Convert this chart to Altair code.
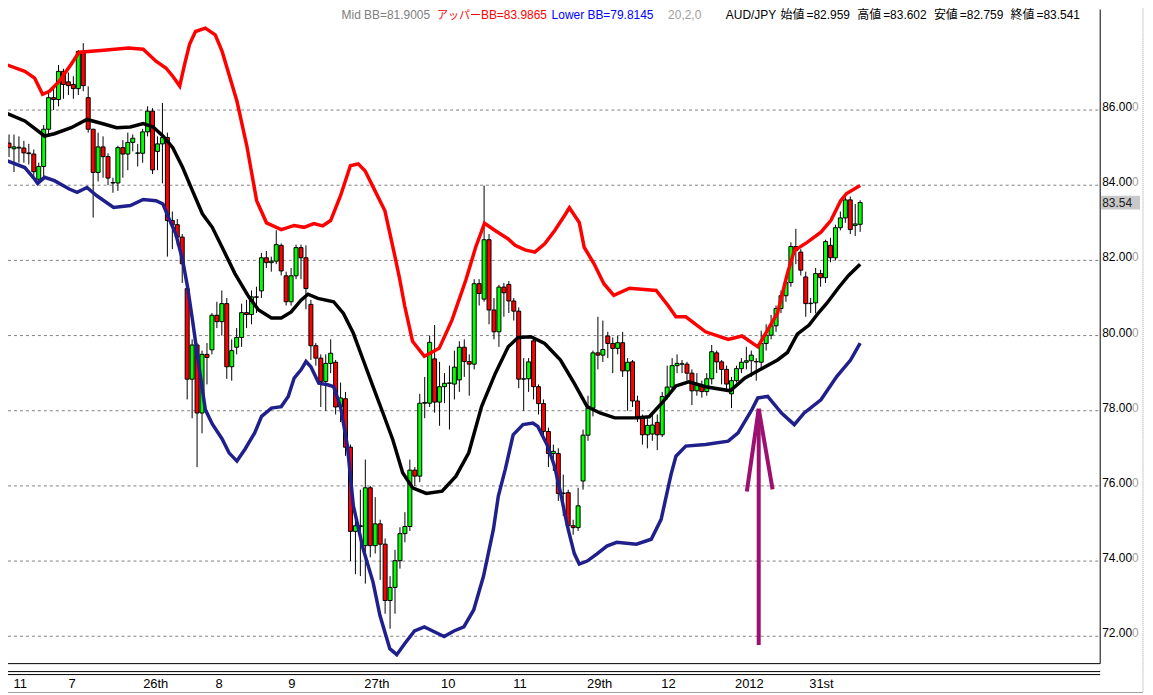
import altair as alt
import pandas as pd

# ---------------- AUD/JPY candles ----------------
opens = [
    85.12, 84.97, 84.99, 84.99, 84.86, 84.83, 84.16, 84.50, 85.49, 86.33,
    86.28, 87.03, 86.75, 86.68, 86.57, 87.56, 86.33, 85.49, 84.34, 85.02,
    84.76, 84.07, 84.06, 85.00, 84.83, 85.14, 84.85, 84.85, 85.42, 85.97,
    84.90, 85.10, 85.27, 83.06, 82.95, 82.62, 81.25, 78.84, 79.75, 77.94,
    79.50, 79.62, 80.54, 80.37, 80.85, 79.17, 79.69, 79.95, 80.61, 80.56,
    81.03, 81.19, 82.07, 81.94, 81.98, 82.40, 81.59, 80.90, 81.59, 82.34,
    82.07, 80.83, 79.73, 79.40, 78.78, 79.26, 79.29, 78.10, 78.32, 77.03,
    74.79, 74.94, 74.41, 75.95, 74.41, 74.99, 74.45, 72.95, 73.30, 74.01,
    74.73, 74.92, 76.42, 76.26, 78.20, 78.20, 79.38, 78.23, 78.64, 78.73,
    78.71, 78.82, 79.69, 79.31, 79.24, 81.38, 80.97, 82.55, 80.68, 80.10,
    81.29, 81.36, 80.92, 80.65, 78.84, 78.85, 79.86, 78.64, 78.19, 77.45,
    76.86, 76.86, 75.80, 75.82, 74.94, 74.89, 76.13, 77.35, 78.07, 79.54,
    79.48, 79.99, 79.79, 79.66, 79.81, 79.06, 79.30, 78.26, 77.83, 77.36,
    77.38, 77.69, 77.36, 78.38, 78.63, 79.20, 79.24, 79.24, 79.00, 78.53,
    78.66, 78.51, 78.85, 79.54, 79.30, 79.10, 78.45, 78.80, 79.12, 79.29,
    79.33, 79.30, 79.29, 79.79, 80.01, 80.26, 80.72, 81.06, 81.41, 82.37,
    82.22, 81.56, 80.85, 80.87, 81.65, 81.54, 82.40, 82.07, 82.87, 83.13,
    83.61, 82.93, 82.96,
]
highs = [
    85.35, 85.35, 85.30, 85.18, 85.10, 84.95, 84.60, 85.60, 86.50, 86.60,
    87.20, 87.10, 87.00, 86.90, 87.60, 87.78, 86.63, 85.50, 85.40, 85.30,
    84.85, 84.20, 85.05, 85.20, 85.40, 85.35, 85.10, 85.50, 86.10, 86.05,
    85.30, 86.19, 85.40, 83.30, 83.10, 82.70, 81.40, 79.90, 79.80, 79.60,
    79.80, 80.60, 80.90, 81.20, 81.00, 79.90, 80.20, 80.85, 80.95, 81.20,
    81.30, 82.20, 82.25, 82.10, 82.80, 82.45, 81.70, 81.80, 82.42, 82.42,
    82.40, 80.95, 79.80, 79.50, 79.50, 79.90, 79.35, 78.75, 78.50, 77.10,
    75.30, 75.90, 76.70, 76.00, 75.70, 75.10, 74.60, 73.60, 74.30, 74.90,
    75.30, 76.70, 76.50, 78.45, 78.90, 80.00, 80.28, 79.30, 79.00, 79.20,
    79.60, 79.85, 79.90, 79.50, 81.50, 81.50, 83.99, 82.70, 81.00, 81.35,
    81.40, 81.45, 81.00, 80.75, 79.40, 79.40, 79.90, 78.70, 78.30, 77.55,
    77.10, 77.00, 76.30, 75.90, 75.10, 75.95, 77.50, 78.40, 79.60, 80.50,
    80.40, 80.10, 79.95, 80.00, 80.10, 79.40, 79.35, 78.40, 77.90, 77.80,
    77.95, 77.90, 78.50, 79.20, 79.40, 79.50, 79.35, 79.30, 79.10, 79.00,
    78.80, 79.00, 79.75, 79.60, 79.35, 79.20, 78.90, 79.20, 79.40, 79.70,
    79.60, 79.40, 80.13, 80.30, 80.55, 80.80, 81.20, 81.50, 82.48, 82.84,
    82.30, 81.70, 81.00, 81.80, 81.75, 82.55, 82.60, 82.95, 83.30, 83.78,
    83.70, 83.50, 83.60,
]
lows = [
    84.75, 84.35, 84.60, 84.60, 84.55, 84.20, 84.05, 84.20, 85.30, 86.00,
    86.10, 86.30, 86.40, 86.30, 86.40, 86.50, 85.40, 83.14, 84.10, 84.20,
    84.00, 83.80, 83.85, 84.20, 84.40, 84.90, 84.50, 84.60, 85.30, 84.30,
    84.40, 84.05, 82.10, 82.30, 82.40, 81.40, 78.30, 77.80, 76.50, 77.40,
    78.70, 79.50, 80.20, 80.00, 78.85, 78.80, 79.50, 79.70, 80.20, 80.30,
    80.60, 81.00, 81.80, 81.70, 81.90, 81.60, 80.80, 80.80, 81.50, 81.50,
    80.70, 79.35, 79.20, 78.10, 78.00, 79.00, 77.90, 77.70, 76.80, 74.00,
    73.65, 73.60, 73.40, 74.10, 74.20, 73.50, 72.60, 72.20, 72.60, 73.80,
    74.50, 74.80, 76.00, 76.10, 77.80, 78.10, 77.95, 77.60, 78.20, 77.50,
    78.30, 78.50, 78.90, 78.40, 79.10, 80.80, 80.90, 80.30, 79.90, 79.70,
    80.50, 80.60, 80.40, 78.60, 78.00, 78.50, 78.30, 77.90, 77.30, 76.50,
    76.40, 75.60, 75.20, 74.80, 74.70, 74.80, 75.90, 77.20, 77.85, 79.10,
    79.30, 79.40, 79.00, 79.50, 78.90, 78.00, 78.10, 77.70, 77.10, 77.00,
    77.20, 76.95, 77.30, 78.30, 78.50, 79.00, 79.00, 78.80, 78.15, 78.40,
    78.35, 78.40, 78.70, 79.00, 78.70, 78.50, 78.07, 78.75, 79.00, 79.10,
    78.90, 78.80, 79.10, 79.60, 79.90, 80.10, 80.60, 80.90, 81.30, 81.90,
    81.60, 80.50, 80.60, 80.59, 81.30, 81.40, 81.95, 82.00, 82.80, 83.00,
    82.70, 82.65, 82.76,
]
closes = [
    85.00, 85.02, 85.01, 84.86, 84.84, 84.36, 84.50, 85.49, 86.33, 86.28,
    87.03, 86.68, 86.65, 86.57, 87.56, 86.65, 85.49, 84.34, 85.02, 84.76,
    84.19, 84.06, 85.00, 84.83, 85.14, 85.25, 84.86, 85.42, 85.97, 84.41,
    85.10, 85.27, 83.06, 82.95, 82.62, 81.91, 78.84, 79.75, 77.94, 79.50,
    79.42, 80.54, 80.37, 80.85, 79.17, 79.60, 79.95, 80.61, 80.56, 81.03,
    81.02, 82.07, 81.94, 81.98, 82.42, 81.72, 80.90, 81.59, 82.34, 82.07,
    81.25, 79.73, 79.40, 78.78, 79.26, 79.53, 78.10, 78.34, 77.03, 74.79,
    74.94, 74.92, 75.95, 74.41, 74.99, 74.45, 72.95, 73.30, 74.01, 74.73,
    74.92, 76.42, 76.26, 78.20, 78.22, 79.82, 78.23, 78.64, 78.73, 78.74,
    79.16, 79.69, 79.31, 79.24, 81.38, 81.12, 82.55, 80.68, 80.10, 81.29,
    81.14, 80.92, 80.65, 78.84, 78.85, 79.30, 78.64, 78.19, 77.45, 76.86,
    76.92, 75.80, 75.81, 74.94, 74.89, 75.47, 77.35, 78.07, 79.54, 79.48,
    79.63, 79.79, 79.66, 79.81, 79.06, 79.29, 78.26, 77.83, 77.36, 77.61,
    77.62, 77.36, 78.38, 78.63, 79.20, 79.26, 79.25, 79.00, 78.53, 78.70,
    78.51, 78.85, 79.57, 79.30, 79.10, 78.71, 78.80, 79.12, 79.29, 79.33,
    79.48, 79.31, 79.79, 80.01, 80.26, 80.72, 81.06, 81.41, 82.37, 82.26,
    81.74, 80.85, 80.86, 81.65, 81.54, 82.50, 82.07, 82.87, 83.13, 83.61,
    82.82, 82.97, 83.54,
]

# ---------------- Bollinger bands (20,2,0), sampled (bar position, value) ----------------
upper_band = [
    (-0.80, 87.22), (3.19, 87.03), (5.18, 86.85), (6.78, 86.42), (8.17, 86.50),
    (10.17, 86.77), (12.56, 87.22), (14.15, 87.54), (19.14, 87.59), (24.12, 87.65),
    (27.11, 87.62), (29.70, 87.30), (31.70, 87.12), (33.09, 86.90), (34.49, 86.64),
    (35.49, 87.22), (36.48, 87.75), (37.68, 88.09), (39.67, 88.18), (41.67, 88.00),
    (43.06, 87.56), (46.05, 86.24), (48.05, 85.05), (50.04, 83.59), (52.03, 83.00),
    (55.02, 82.82), (57.62, 82.93), (59.61, 82.88), (61.60, 82.98), (63.40, 82.92),
    (64.99, 83.06), (66.99, 83.72), (68.98, 84.52), (70.57, 84.57), (71.97, 84.38),
    (73.96, 83.85), (75.96, 83.32), (77.95, 82.13), (78.95, 81.50), (79.94, 80.80),
    (81.54, 79.85), (83.93, 79.45), (86.92, 79.66), (89.51, 80.41), (92.30, 81.47),
    (94.30, 82.35), (96.09, 82.99), (98.29, 82.79), (100.88, 82.57), (102.27, 82.40),
    (104.27, 82.28), (106.26, 82.22), (108.25, 82.44), (110.25, 82.79), (112.24, 83.19),
    (113.24, 83.40), (115.23, 83.01), (116.23, 82.35), (118.22, 81.91), (120.21, 81.38),
    (122.21, 81.07), (125.40, 81.26), (130.78, 81.20), (133.17, 80.80), (134.77, 80.50),
    (136.76, 80.50), (140.75, 80.10), (145.33, 79.90), (148.13, 79.99), (151.32, 79.70),
    (153.31, 80.15), (155.30, 80.60), (157.30, 81.65), (158.69, 82.26), (161.28, 82.48),
    (164.07, 82.75), (166.07, 83.06), (168.06, 83.59), (169.26, 83.78), (172.00, 83.99),
]
mid_band = [
    (-0.80, 85.93), (3.19, 85.71), (7.18, 85.31), (9.17, 85.37), (12.56, 85.53),
    (15.75, 85.75), (19.14, 85.63), (21.73, 85.53), (24.52, 85.55), (27.11, 85.64),
    (29.11, 85.55), (31.10, 85.31), (33.09, 85.00), (35.09, 84.47), (37.08, 83.85),
    (39.07, 83.24), (41.07, 82.88), (43.06, 82.35), (45.65, 81.65), (48.44, 81.03),
    (50.44, 80.68), (53.03, 80.47), (55.02, 80.47), (57.02, 80.63), (59.01, 80.94),
    (60.41, 81.10), (62.40, 80.99), (65.59, 80.90), (67.58, 80.59), (69.58, 80.06),
    (71.57, 79.35), (73.56, 78.64), (75.56, 77.94), (77.55, 77.23), (79.55, 76.35),
    (81.54, 75.95), (84.33, 75.80), (87.52, 75.86), (90.31, 76.26), (92.90, 76.88),
    (95.49, 78.11), (98.29, 79.00), (100.88, 79.70), (102.87, 79.95), (105.46, 79.97),
    (108.25, 79.79), (111.44, 79.35), (114.23, 78.73), (116.83, 78.11), (119.42, 77.94),
    (122.41, 77.81), (126.79, 77.81), (129.39, 77.84), (132.18, 78.24), (134.77, 78.66),
    (137.36, 78.77), (140.75, 78.64), (145.73, 78.53), (148.72, 78.87), (151.71, 79.09),
    (155.30, 79.35), (157.30, 79.55), (159.29, 80.04), (161.68, 80.28), (163.68, 80.62),
    (165.27, 80.86), (167.66, 81.28), (169.66, 81.60), (172.00, 81.90),
]
lower_band = [
    (-0.80, 84.67), (3.19, 84.47), (5.18, 84.16), (5.78, 84.05), (7.18, 84.21),
    (9.17, 84.12), (12.16, 83.90), (13.76, 83.81), (15.75, 83.94), (17.74, 83.72),
    (21.13, 83.41), (24.52, 83.46), (27.11, 83.62), (29.70, 83.59), (31.10, 83.50),
    (32.50, 83.06), (33.69, 82.71), (35.09, 82.00), (36.08, 81.29), (37.08, 80.41),
    (38.48, 79.09), (39.67, 78.03), (41.07, 77.65), (43.06, 77.25), (44.46, 76.88),
    (46.05, 76.66), (47.65, 76.97), (49.64, 77.41), (51.04, 77.85), (53.03, 78.07),
    (55.02, 78.11), (56.42, 78.38), (57.62, 78.87), (59.01, 79.09), (60.01, 79.31),
    (61.00, 79.17), (62.60, 78.73), (64.39, 78.69), (65.59, 78.64), (66.99, 78.11),
    (68.38, 77.06), (69.58, 75.47), (71.57, 74.32), (73.56, 73.44), (74.96, 72.55),
    (76.95, 71.67), (78.35, 71.51), (79.94, 71.80), (81.94, 72.14), (83.93, 72.25),
    (85.93, 72.12), (87.92, 71.99), (89.91, 72.14), (91.91, 72.25), (93.90, 72.70),
    (95.89, 73.60), (97.89, 74.85), (98.88, 75.73), (100.28, 76.44), (101.87, 77.36),
    (103.87, 77.63), (105.86, 77.67), (106.86, 77.58), (108.85, 77.06), (110.25, 76.52),
    (111.44, 75.82), (112.84, 74.93), (114.23, 74.20), (115.23, 73.92), (116.83, 74.00),
    (118.82, 74.19), (120.81, 74.40), (122.81, 74.50), (126.79, 74.45), (129.78, 74.58),
    (131.78, 75.11), (133.77, 76.30), (134.77, 76.79), (136.76, 77.06), (140.75, 77.10),
    (145.33, 77.19), (147.33, 77.41), (150.12, 78.03), (151.32, 78.34), (153.31, 78.38),
    (156.10, 77.94), (158.69, 77.63), (160.69, 77.94), (164.07, 78.29), (167.26, 78.91),
    (170.06, 79.35), (172.00, 79.80),
]

# ---------------- axes / annotation content ----------------
y_ticks = [72, 74, 76, 78, 80, 82, 84, 86]
x_labels = ["11", "7", "26th", "8", "9", "27th", "10", "11", "29th", "12", "2012", "31st"]
x_label_at = [0.9, 12.0, 27.1, 41.7, 56.4, 71.8, 87.3, 101.9, 116.8, 131.8, 146.7, 161.7]

# arrow: (x1, y1) -> (x2, y2) in bar position / price units
arrow_segments = [
    (151.5, 71.77, 151.5, 78.05),
    (149.1, 75.85, 151.5, 78.05),
    (154.3, 75.91, 151.5, 78.05),
]

# header: plain pieces (text, colour)
header_texts = ["Mid BB=81.9005", "アッパー", "BB=83.9865", "Lower BB=79.8145", "20,2,0", "AUD/JPY"]
header_colors = ["#808080", "#FF0000", "#FF0000", "#0000FF", "#A0A0A0", "#000000"]
# OHLC pieces: (label, value)
ohlc_labels = ["始値", "高値", "安値", "終値"]
ohlc_values = ["=82.959", "=83.602", "=82.759", "=83.541"]

# ---------------- layout ----------------
FONT = "Liberation Sans, Noto Sans CJK JP, sans-serif"
W, H = 1097, 657
HEADER_Y = 10
header_px = [335, 431, 475, 546, 663, 721]
header_size = [12, 11, 12, 12, 12, 12]
ohlc_px = [776, 853, 930, 1007]

xs = alt.Scale(domain=[0.797, 219.5], nice=False, zero=False)
ys = alt.Scale(domain=[71.2715, 88.6755], nice=False, zero=False)

n = len(closes)
candles = pd.DataFrame({"idx": list(range(n)), "open": opens, "high": highs,
                        "low": lows, "close": closes})
candles["dir"] = ["up" if c >= o else "down" for o, c in zip(opens, closes)]

dummy = pd.DataFrame({"d": [0]})


def X(f):
    return alt.X(f, scale=xs, axis=None)


def Y(f):
    return alt.Y(f, scale=ys, axis=None)


layers = []

grid = alt.Chart(pd.DataFrame({"v": y_ticks})).mark_rule(
    color="#808080", strokeDash=[3, 3], strokeWidth=1
).encode(y=Y("v:Q"), x=alt.value(0), x2=alt.value(W))
layers.append(grid)

wicks = alt.Chart(candles).mark_rule(color="black", strokeWidth=1).encode(
    x=X("idx:Q"), y=Y("low:Q"), y2="high:Q")
layers.append(wicks)

bodies = alt.Chart(candles).mark_bar(size=4, stroke="black", strokeWidth=1).encode(
    x=X("idx:Q"), y=Y("open:Q"), y2="close:Q",
    fill=alt.Fill("dir:N", scale=alt.Scale(domain=["up", "down"], range=["#00FF00", "#FF0000"]),
                  legend=None))
layers.append(bodies)

for pts, col in [(lower_band, "#20208C"), (mid_band, "#000000"), (upper_band, "#FF0000")]:
    band_df = pd.DataFrame(pts, columns=["idx", "v"])
    layers.append(alt.Chart(band_df).mark_line(color=col, strokeWidth=3.5).encode(
        x=X("idx:Q"), y=Y("v:Q")))

arrow = alt.Chart(pd.DataFrame(arrow_segments, columns=["x1", "y1", "x2", "y2"])).mark_rule(
    color="#9C1070", strokeWidth=4
).encode(x=X("x1:Q"), y=Y("y1:Q"), x2="x2:Q", y2="y2:Q")
layers.append(arrow)

# frame: right and bottom borders, double line under the plot
layers.append(alt.Chart(dummy).mark_rule(color="black", strokeWidth=1).encode(
    x=alt.value(W), y=alt.value(0), y2=alt.value(H)))
layers.append(alt.Chart(dummy).mark_rule(color="black", strokeWidth=1).encode(
    x=alt.value(0), x2=alt.value(W), y=alt.value(H)))
for yy in [665, 668]:
    layers.append(alt.Chart(dummy).mark_rule(color="black", strokeWidth=1).encode(
        x=alt.value(0), x2=alt.value(W), y=alt.value(yy)))
# window edge
layers.append(alt.Chart(dummy).mark_rule(color="#A0A0A0", strokeWidth=1, strokeDash=[1, 1]).encode(
    x=alt.value(1140), y=alt.value(-8), y2=alt.value(686)))
layers.append(alt.Chart(dummy).mark_rule(color="#A0A0A0", strokeWidth=1).encode(
    x=alt.value(0), x2=alt.value(1140), y=alt.value(686)))

# right price labels
tick_df = pd.DataFrame({"v": y_ticks, "lab": [f"{t:.2f}" for t in y_ticks]})
layers.append(alt.Chart(tick_df).mark_text(
    align="left", baseline="alphabetic", dy=1, fontSize=12, font=FONT, color="black"
).encode(y=Y("v:Q"), x=alt.value(1099), text="lab:N"))
layers.append(alt.Chart(tick_df).mark_text(
    align="left", baseline="alphabetic", dy=1, fontSize=12, font=FONT, color="#A0A0A0", text="0"
).encode(y=Y("v:Q"), x=alt.value(1129)))

# current price box
last_df = pd.DataFrame({"v": [closes[-1]], "lab": [f"{closes[-1]:.2f}"]})
layers.append(alt.Chart(dummy).mark_rect(color="#C8C8C8").encode(
    x=alt.value(1098), x2=alt.value(1137), y=alt.value(187), y2=alt.value(201)))
layers.append(alt.Chart(last_df).mark_text(
    align="left", baseline="alphabetic", dy=4, fontSize=12, font=FONT, color="#202020"
).encode(y=Y("v:Q"), x=alt.value(1099), text="lab:N"))

# bottom time labels
xl_df = pd.DataFrame({"pos": x_label_at, "lab": x_labels})
layers.append(alt.Chart(xl_df).mark_text(
    align="left", baseline="alphabetic", fontSize=13, font=FONT, color="black"
).encode(x=X("pos:Q"), y=alt.value(681), text="lab:N"))

# header line
for txt, col, px, fs in zip(header_texts, header_colors, header_px, header_size):
    layers.append(alt.Chart(dummy).mark_text(
        align="left", baseline="alphabetic", fontSize=fs, font=FONT, color=col, text=txt
    ).encode(x=alt.value(px), y=alt.value(HEADER_Y)))
for lab, val, px in zip(ohlc_labels, ohlc_values, ohlc_px):
    layers.append(alt.Chart(dummy).mark_text(
        align="left", baseline="alphabetic", fontSize=12, font=FONT, color="#000000", text=lab
    ).encode(x=alt.value(px), y=alt.value(HEADER_Y)))
    layers.append(alt.Chart(dummy).mark_text(
        align="left", baseline="alphabetic", fontSize=12, font=FONT, color="#000000", text=val
    ).encode(x=alt.value(px + 26), y=alt.value(HEADER_Y)))

chart = alt.layer(*layers).properties(
    width=W, height=H,
    autosize=alt.AutoSizeParams(type="none"),
    padding={"left": 0, "top": 0, "right": 45, "bottom": 30},
    background="white",
).configure_view(stroke=None)

chart.save("out.html", embed_options={"renderer": "svg", "actions": False})
